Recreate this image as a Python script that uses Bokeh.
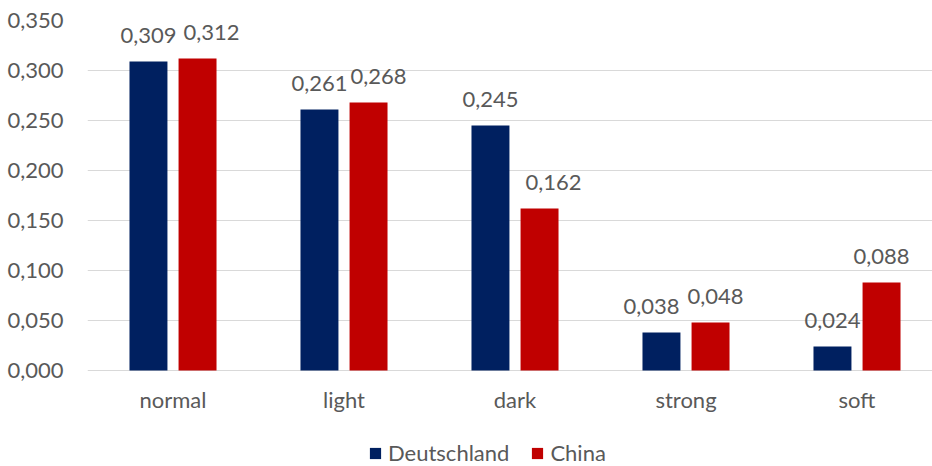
from bokeh.plotting import figure
from bokeh.models import (ColumnDataSource, Range1d, FixedTicker, CustomJSTickFormatter,
                          Legend, LegendItem)
from bokeh.core.properties import value
from bokeh.embed import file_html
from bokeh.resources import INLINE

categories = ["normal", "light", "dark", "strong", "soft"]
series_names = ["Deutschland", "China"]
deutschland = [0.309, 0.261, 0.245, 0.038, 0.024]
china = [0.312, 0.268, 0.162, 0.048, 0.088]
y_ticks = [0.0, 0.05, 0.10, 0.15, 0.20, 0.25, 0.30, 0.35]

colors = ["#002060", "#C00000"]
text_color = "#595959"
grid_color = "#D9D9D9"
font = "Lato"
font_size = "22px"

bar_width = 0.222
offsets = [-0.1435, 0.1435]
# horizontal nudges (px) that keep neighbouring value labels apart
label_nudges = [[0, 0, 0, -10, 0], [14, 10, 14, 5, 0]]

# the frame reaches down to the bottom edge so the category names and the
# legend sit inside it, below the zero line
p = figure(width=932, height=466,
           x_range=Range1d(-0.5, 4.4415), y_range=Range1d(-0.096, 0.35),
           output_backend="svg", toolbar_location=None,
           min_border_left=87, min_border_right=0,
           min_border_top=20, min_border_bottom=0)
p.outline_line_color = None
p.background_fill_color = "white"
p.border_fill_color = "white"
p.xaxis.visible = False

renderers = []
for name, vals, off, col, nudge in zip(series_names, [deutschland, china], offsets,
                                       colors, label_nudges):
    src = ColumnDataSource(dict(
        x=[i + off for i in range(len(categories))],
        top=vals,
        label=[f"{v:.3f}".replace(".", ",") for v in vals],
        dx=nudge,
    ))
    r = p.vbar(x="x", top="top", bottom=0, width=bar_width, source=src,
               fill_color=col, line_color=None)
    renderers.append((name, r))
    p.text(x="x", y="top", text="label", source=src, x_offset="dx",
           text_align="center", text_baseline="alphabetic", y_offset=-26,
           text_font=value(font), text_font_size=font_size, text_color=text_color)

# category names under the zero line
cat_src = ColumnDataSource(dict(x=list(range(len(categories))),
                                y=[0] * len(categories), name=categories))
p.text(x="x", y="y", text="name", source=cat_src, text_align="center",
       text_baseline="middle", y_offset=29,
       text_font=value(font), text_font_size=font_size, text_color=text_color)

# y axis
p.yaxis.ticker = FixedTicker(ticks=y_ticks)
p.yaxis.formatter = CustomJSTickFormatter(code="return tick.toFixed(3).replace('.', ',');")
p.yaxis.axis_line_color = None
p.yaxis.major_tick_line_color = None
p.yaxis.minor_tick_line_color = None
p.yaxis.major_label_standoff = 18
p.yaxis.major_label_text_font = font
p.yaxis.major_label_text_font_size = font_size
p.yaxis.major_label_text_color = text_color

p.ygrid.ticker = FixedTicker(ticks=y_ticks)
p.ygrid.grid_line_color = grid_color
p.ygrid.grid_line_width = 1
p.xgrid.grid_line_color = None

legend = Legend(items=[LegendItem(label=n, renderers=[r]) for n, r in renderers],
                location=(281, 0), orientation="horizontal",
                glyph_width=14, glyph_height=14, label_standoff=6, spacing=21,
                padding=0, margin=0, border_line_color=None,
                background_fill_alpha=0,
                label_text_font=font, label_text_font_size=font_size,
                label_text_color=text_color)
p.add_layout(legend, "center")

open("out.html", "w").write(file_html(p, INLINE))
